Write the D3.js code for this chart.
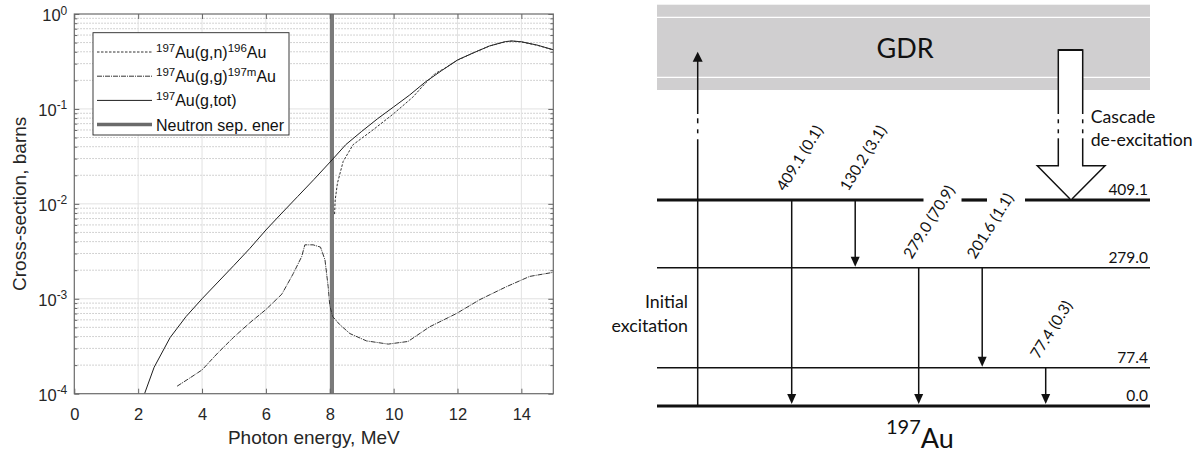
<!DOCTYPE html>
<html>
<head>
<meta charset="utf-8">
<script src="https://cdn.jsdelivr.net/npm/d3@7/dist/d3.min.js"></script>
<style>
  body { margin: 0; background: #fff; }
  svg { display: block; }
</style>
</head>
<body>
<svg id="fig" width="1202" height="454"></svg>
<script>
// ---- left panel data (cross-sections, barns) ----
var totE = [2.2, 2.5, 3, 3.5, 4, 4.5, 5, 5.5, 6, 6.5, 7, 7.5, 8.07, 8.5, 9, 9.5, 10, 10.5, 11, 11.5, 12, 12.5, 13, 13.5, 13.7, 14, 14.5, 15];
var totS = [1e-4, 1.9e-4, 3.9e-4, 6.5e-4, 1.0e-3, 1.5e-3, 2.25e-3, 3.4e-3, 5.3e-3, 8.0e-3, 0.012, 0.018, 0.029, 0.042, 0.058, 0.079, 0.105, 0.14, 0.193, 0.253, 0.328, 0.39, 0.46, 0.512, 0.52, 0.51, 0.47, 0.42];

var gnE = [8.15, 8.17, 8.24, 8.42, 8.73, 9.35, 9.98, 10.6, 10.97, 11.3, 11.6, 12, 12.5, 13, 13.5, 13.7, 14, 14.5, 15];
var gnS = [0.0078, 0.011, 0.0165, 0.028, 0.042, 0.060, 0.088, 0.133, 0.183, 0.236, 0.268, 0.326, 0.39, 0.46, 0.51, 0.518, 0.508, 0.468, 0.418];

var ggE = [3.22, 3.6, 4.0, 4.5, 4.98, 5.5, 6.0, 6.5, 6.86, 7.12, 7.22, 7.48, 7.71, 7.85, 7.95, 8.0, 8.09, 8.3, 8.63, 9.15, 9.83, 10.45, 11.13, 11.97, 12.7, 13.53, 14.26, 15];
var ggS = [1.2e-4, 1.45e-4, 1.78e-4, 2.7e-4, 3.9e-4, 5.6e-4, 7.7e-4, 1.12e-3, 1.85e-3, 2.78e-3, 3.7e-3, 3.7e-3, 3.5e-3, 2.57e-3, 1.34e-3, 8.5e-4, 6.5e-4, 5.4e-4, 4.3e-4, 3.6e-4, 3.33e-4, 3.55e-4, 5.07e-4, 7.0e-4, 9.8e-4, 1.34e-3, 1.72e-3, 1.9e-3];

var neutronSep = 8.07;
var xTicks = [0, 2, 4, 6, 8, 10, 12, 14];
var yDecades = [1e-4, 1e-3, 1e-2, 1e-1, 1];

// ---- right panel data (197Au level scheme, keV) ----
var levels = [409.1, 279.0, 77.4, 0.0];
var levelNames = ["409.1", "279.0", "77.4", "0.0"];
var gammaE = ["409.1", "130.2", "279.0", "201.6", "77.4"];
var gammaI = ["0.1", "3.1", "70.9", "1.1", "0.3"];
var gammaFrom = [409.1, 409.1, 279.0, 279.0, 77.4];
var gammaTo = [0.0, 279.0, 0.0, 77.4, 0.0];

var svg = d3.select("#fig");
var sans = "'Liberation Sans', Arial, sans-serif";
var cal = "Lato, 'Open Sans', sans-serif";

// ================= left panel =================
var x = d3.scaleLinear().domain([0, 15]).range([74.3, 553.3]);
var y = d3.scaleLog().domain([1e-4, 1]).range([393.7, 14]);
var L = svg.append("g");

var minors = [];
for (var e = -4; e < 0; e++) for (var m = 2; m < 10; m++) minors.push(m * Math.pow(10, e));

// grid
L.selectAll(".ymin").data(minors).enter().append("line")
  .attr("x1", x(0)).attr("x2", x(15))
  .attr("y1", function (d) { return y(d); }).attr("y2", function (d) { return y(d); })
  .attr("stroke", "#b5b5b5").attr("stroke-width", 0.8).attr("stroke-dasharray", "1.5,1.5");
L.selectAll(".ymaj").data(yDecades.slice(1, 4)).enter().append("line")
  .attr("x1", x(0)).attr("x2", x(15))
  .attr("y1", function (d) { return y(d); }).attr("y2", function (d) { return y(d); })
  .attr("stroke", "#e2e2e2").attr("stroke-width", 1);
L.selectAll(".xmaj").data(xTicks.slice(1)).enter().append("line")
  .attr("y1", y(1e-4)).attr("y2", y(1))
  .attr("x1", function (d) { return x(d); }).attr("x2", function (d) { return x(d); })
  .attr("stroke", "#e2e2e2").attr("stroke-width", 1);

// neutron separation energy
L.append("line").attr("x1", x(neutronSep)).attr("x2", x(neutronSep))
  .attr("y1", y(1e-4)).attr("y2", y(1))
  .attr("stroke", "#7a7a7a").attr("stroke-width", 4);

// curves
var line = d3.line().x(function (d) { return x(d[0]); }).y(function (d) { return y(d[1]); });
L.append("path").datum(d3.zip(totE, totS)).attr("d", line)
  .attr("fill", "none").attr("stroke", "#1e1e1e").attr("stroke-width", 1);
L.append("path").datum(d3.zip(gnE, gnS)).attr("d", line)
  .attr("fill", "none").attr("stroke", "#333").attr("stroke-width", 1).attr("stroke-dasharray", "2.5,1.5");
L.append("path").datum(d3.zip(ggE, ggS)).attr("d", line)
  .attr("fill", "none").attr("stroke", "#333").attr("stroke-width", 1).attr("stroke-dasharray", "5,1,1,1");

// axes (ticks inside, frame)
function clean(g) { g.select(".domain").remove(); return g; }
var axB = L.append("g").attr("transform", "translate(0," + y(1e-4) + ")")
  .call(d3.axisBottom(x).tickValues(xTicks).tickSizeInner(-5).tickSizeOuter(0).tickPadding(15));
clean(axB);
axB.selectAll("text").attr("font-family", sans).attr("font-size", "16.5px").attr("fill", "#262626");
axB.selectAll("line").attr("stroke", "#666");
clean(L.append("g").attr("transform", "translate(0," + y(1) + ")")
  .call(d3.axisTop(x).tickValues(xTicks).tickSizeInner(-5).tickSizeOuter(0).tickFormat("")))
  .selectAll("line").attr("stroke", "#666");

var axL = L.append("g").attr("transform", "translate(" + x(0) + ",0)")
  .call(d3.axisLeft(y).tickValues(yDecades).tickSizeInner(-5).tickSizeOuter(0).tickPadding(7));
clean(axL);
axL.selectAll("line").attr("stroke", "#666");
axL.selectAll(".tick text").each(function (d) {
  var t = d3.select(this);
  t.text("10").attr("font-family", sans).attr("font-size", "16.5px").attr("fill", "#262626").attr("dy", "0.4em");
  t.append("tspan").attr("dy", "-0.55em").attr("font-size", "12px").text(String(Math.round(Math.log10(d))));
});
clean(L.append("g").attr("transform", "translate(" + x(0) + ",0)")
  .call(d3.axisLeft(y).tickValues(minors).tickSizeInner(-3).tickSizeOuter(0).tickFormat("")))
  .selectAll("line").attr("stroke", "#666");
clean(L.append("g").attr("transform", "translate(" + x(15) + ",0)")
  .call(d3.axisRight(y).tickValues(yDecades).tickSizeInner(-5).tickSizeOuter(0).tickFormat("")))
  .selectAll("line").attr("stroke", "#666");
clean(L.append("g").attr("transform", "translate(" + x(15) + ",0)")
  .call(d3.axisRight(y).tickValues(minors).tickSizeInner(-3).tickSizeOuter(0).tickFormat("")))
  .selectAll("line").attr("stroke", "#666");

L.append("rect").attr("x", x(0)).attr("y", y(1)).attr("width", x(15) - x(0)).attr("height", y(1e-4) - y(1))
  .attr("fill", "none").attr("stroke", "#6a6a6a").attr("stroke-width", 1.2);

L.append("text").attr("x", (x(0) + x(15)) / 2).attr("y", 444).attr("text-anchor", "middle")
  .attr("font-family", sans).attr("font-size", "19px").attr("fill", "#262626").text("Photon energy, MeV");
L.append("text").attr("transform", "translate(26," + ((y(1) + y(1e-4)) / 2) + ") rotate(-90)")
  .attr("text-anchor", "middle").attr("font-family", sans).attr("font-size", "19px").attr("fill", "#262626")
  .text("Cross-section, barns");

// legend
var leg = L.append("g");
leg.append("rect").attr("x", 93).attr("y", 32.7).attr("width", 196).attr("height", 102.3)
  .attr("fill", "#fff").attr("stroke", "#262626").attr("stroke-width", 0.9);
var legItems = [
  { parts: [["197", 1], ["Au(g,n)", 0], ["196", 1], ["Au", 0]], dash: "2.5,1.5", w: 1, c: "#333" },
  { parts: [["197", 1], ["Au(g,g)", 0], ["197m", 1], ["Au", 0]], dash: "5,1,1,1", w: 1, c: "#333" },
  { parts: [["197", 1], ["Au(g,tot)", 0]], dash: null, w: 1, c: "#1e1e1e" },
  { parts: [["Neutron sep. ener", 0]], dash: null, w: 3.5, c: "#6a6a6a" }
];
legItems.forEach(function (it, i) {
  var ly = 52 + i * 24.2;
  leg.append("line").attr("x1", 97).attr("x2", 152).attr("y1", ly).attr("y2", ly)
    .attr("stroke", it.c).attr("stroke-width", it.w).attr("stroke-dasharray", it.dash);
  var t = leg.append("text").attr("x", 156).attr("y", ly + 6)
    .attr("font-family", sans).attr("font-size", "16px").attr("fill", "#111");
  var up = false;
  it.parts.forEach(function (p) {
    var s = t.append("tspan").text(p[0]);
    if (p[1] && !up) { s.attr("dy", -6).attr("font-size", "11.5px"); up = true; }
    else if (!p[1] && up) { s.attr("dy", 6); up = false; }
  });
});

// ================= right panel =================
var R = svg.append("g");
var left = 657, right = 1150;
var yL = d3.scaleLinear().domain([0, 77.4, 279.0, 409.1]).range([406, 367.7, 267.7, 200]);
var xG = d3.scalePoint().domain(gammaE).range([791.7, 1045.7]);
var ang = 58, tanA = Math.tan(ang * Math.PI / 180);

// GDR band
R.append("rect").attr("x", left).attr("y", 4.7).attr("width", right - left).attr("height", 85.3).attr("fill", "#d0cfd0");
[17.3, 77.3].forEach(function (v) {
  R.append("line").attr("x1", left).attr("x2", right).attr("y1", v).attr("y2", v).attr("stroke", "#fff").attr("stroke-width", 1.3);
});
R.append("text").attr("x", 905).attr("y", 58.3).attr("text-anchor", "middle")
  .attr("font-family", cal).attr("font-size", "27px").attr("fill", "#111").text("GDR");

// label anchor for each gamma
var labs = gammaE.map(function (g, i) {
  return { x0: xG(g) - 7, y0: yL(gammaFrom[i]) - 8 };
});

// level lines, with gaps where the gamma labels cross
levels.forEach(function (lv, i) {
  var yy = yL(lv);
  var thick = (lv === 0 || lv === 409.1);
  var gaps = [];
  labs.forEach(function (lb, j) {
    if (gammaFrom[j] < lv && lb.y0 - 80 * Math.sin(ang * Math.PI / 180) < yy) {
      var cx = lb.x0 + (lb.y0 - yy) / tanA - 6.5;
      gaps.push([cx - 19, cx + 19]);
    }
  });
  gaps.sort(function (a, b) { return a[0] - b[0]; });
  var xs = left;
  gaps.concat([[right, right]]).forEach(function (gp) {
    R.append("line").attr("x1", xs).attr("x2", gp[0]).attr("y1", yy).attr("y2", yy)
      .attr("stroke", "#111").attr("stroke-width", thick ? 3.2 : 1.5);
    xs = gp[1];
  });
  R.append("text").attr("x", right - 2).attr("y", yy - 5).attr("text-anchor", "end")
    .attr("font-family", cal).attr("font-size", "15.5px").attr("fill", "#111").text(levelNames[i]);
});

function downHead(cx, tip) {
  return "M" + (cx - 4.5) + "," + (tip - 10) + "L" + (cx + 4.5) + "," + (tip - 10) + "L" + cx + "," + tip + "Z";
}

// gamma transitions
gammaE.forEach(function (g, i) {
  var cx = xG(g), y1 = yL(gammaFrom[i]), tip = yL(gammaTo[i]) - (gammaTo[i] === 0 ? 2 : 1);
  R.append("line").attr("x1", cx).attr("x2", cx).attr("y1", y1).attr("y2", tip - 8)
    .attr("stroke", "#111").attr("stroke-width", 1.5);
  R.append("path").attr("d", downHead(cx, tip)).attr("fill", "#111");
  R.append("text").attr("transform", "translate(" + labs[i].x0 + "," + labs[i].y0 + ") rotate(" + (-ang) + ")")
    .attr("font-family", cal).attr("font-size", "15.5px").attr("fill", "#111")
    .text(g + " (" + gammaI[i] + ")");
});

// initial excitation arrow (with a dash-dot break)
var ix = 697.7;
[[406, 139.3], [123.3, 118.3], [133.3, 129.3], [114, 60]].forEach(function (s) {
  R.append("line").attr("x1", ix).attr("x2", ix).attr("y1", s[0]).attr("y2", s[1])
    .attr("stroke", "#111").attr("stroke-width", 1.5);
});
R.append("path").attr("d", "M" + (ix - 5) + ",61.7L" + (ix + 5) + ",61.7L" + ix + ",51.7Z").attr("fill", "#111");
R.append("text").attr("x", 688).attr("y", 308.3).attr("text-anchor", "end")
  .attr("font-family", cal).attr("font-size", "17.8px").attr("fill", "#111").text("Initial");
R.append("text").attr("x", 688).attr("y", 331.7).attr("text-anchor", "end")
  .attr("font-family", cal).attr("font-size", "17.8px").attr("fill", "#111").text("excitation");

// cascade de-excitation hollow arrow
var s1 = 1058.3, s2 = 1082.7, h1 = 1037.3, h2 = 1105, tipX = 1071, tipY = yL(409.1), hb = 165.7;
R.append("path")
  .attr("d", "M" + s1 + ",50L" + s1 + "," + hb + "L" + h1 + "," + hb + "L" + tipX + "," + tipY +
    "L" + h2 + "," + hb + "L" + s2 + "," + hb + "L" + s2 + ",50Z")
  .attr("fill", "#fff").attr("stroke", "#111").attr("stroke-width", 1.5).attr("stroke-linejoin", "miter");
R.append("line").attr("x1", s1).attr("x2", s2).attr("y1", 50).attr("y2", 50).attr("stroke", "#111").attr("stroke-width", 2);
[s1, s2].forEach(function (sx) {
  R.append("rect").attr("x", sx - 2).attr("y", 114).attr("width", 4).attr("height", 24.3).attr("fill", "#fff");
  [[119.3, 123.3], [129.3, 133.3]].forEach(function (d) {
    R.append("line").attr("x1", sx).attr("x2", sx).attr("y1", d[0]).attr("y2", d[1]).attr("stroke", "#111").attr("stroke-width", 1.5);
  });
});
R.append("text").attr("x", 1090.7).attr("y", 123.3)
  .attr("font-family", cal).attr("font-size", "17.7px").attr("fill", "#111").text("Cascade");
R.append("text").attr("x", 1090.7).attr("y", 145.5)
  .attr("font-family", cal).attr("font-size", "17.7px").attr("fill", "#111").text("de-excitation");

// nucleus label
var nt = R.append("text").attr("x", 886).attr("y", 447.7).attr("font-family", cal).attr("fill", "#111");
nt.append("tspan").attr("font-size", "20px").attr("dy", -14).text("197");
nt.append("tspan").attr("font-size", "27px").attr("dy", 14).text("Au");
</script>
</body>
</html>
